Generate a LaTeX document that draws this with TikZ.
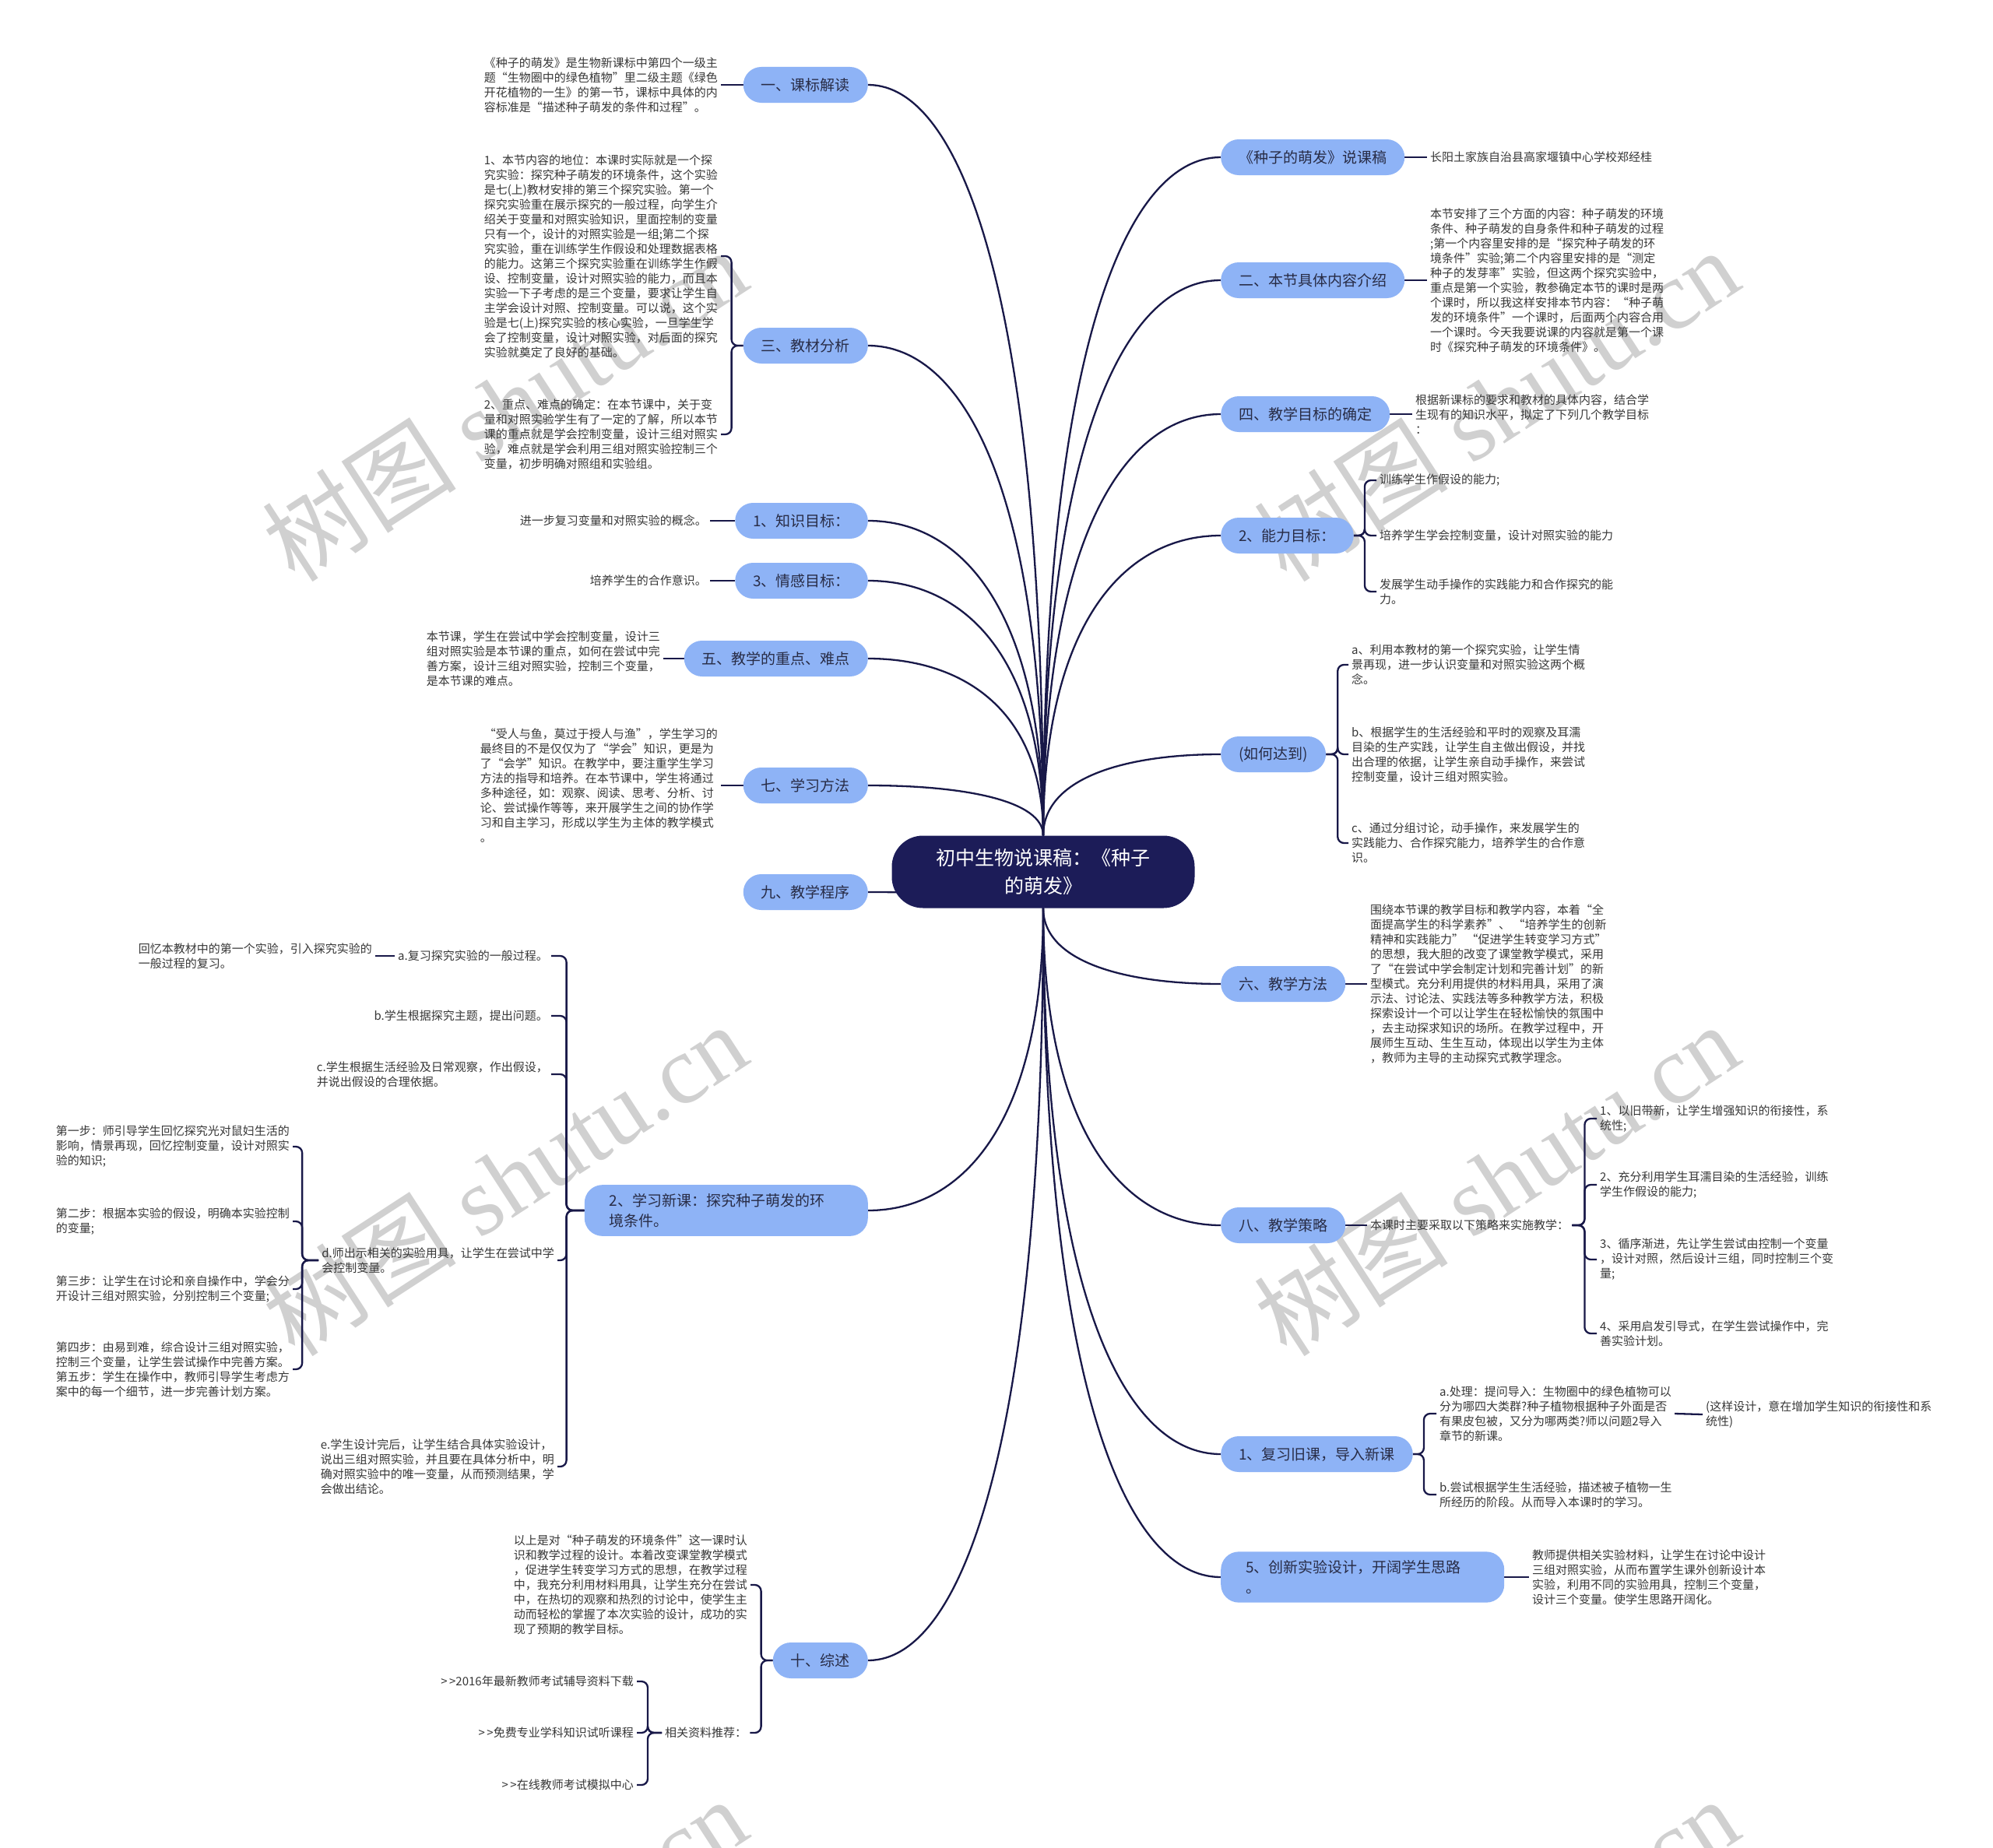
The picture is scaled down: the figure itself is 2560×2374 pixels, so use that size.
\documentclass[tikz,border=0pt]{standalone}
\usepackage{fontspec}
\setmainfont{Noto Sans CJK SC}
\newfontfamily\cjkwm{Noto Sans CJK SC}
\newfontfamily\latwm{Liberation Serif}
\usetikzlibrary{calc}
\definecolor{pillC}{RGB}{142,179,246}
\definecolor{rootC}{RGB}{28,28,88}
\definecolor{lineC}{RGB}{24,24,72}
\definecolor{nodeT}{RGB}{40,44,70}
\definecolor{leafT}{RGB}{55,55,55}
\definecolor{wmC}{RGB}{208,208,208}
\pgfdeclarelayer{wmlayer}
\pgfdeclarelayer{bglayer}
\pgfsetlayers{wmlayer,bglayer,main}
\begin{document}
\begin{tikzpicture}[x=1pt,y=-1pt,
  conn/.style={draw=lineC, line width=2.3pt},
  brk/.style={rounded corners=8pt},
  lvl/.style={fill=pillC, text=nodeT, rounded corners=23pt, font=\fontsize{19}{26}\selectfont, inner xsep=23pt, inner ysep=0pt, minimum height=46pt},
  lvltwo/.style={lvl, text width=300pt, align=left, inner xsep=32pt, inner ysep=11pt},
  leaf/.style={text=leafT, font=\fontsize{15}{19}\selectfont, align=left, inner sep=4pt},
  rootn/.style={fill=rootC, text=white, rounded corners=40pt, font=\fontsize{25}{36}\selectfont, align=center, minimum width=389pt, minimum height=93pt, inner sep=0pt},
  wm/.style={text=wmC, font=\fontsize{125}{130}\selectfont, rotate=33, inner sep=0pt},
  branch/.style={to path={.. controls ($(\tikztostart)!0.7!(\tikztostart |- \tikztotarget)$) and ($(\tikztotarget)!0.55!(\tikztotarget -| \tikztostart)$) .. (\tikztotarget)}}
]
\useasboundingbox (0,0) rectangle (2560,2374);
\begin{pgfonlayer}{wmlayer}
\fill[white] (0,0) rectangle (2560,2374);
\foreach \x/\y/\n in {648/520/a, 1922/520/b, 648/1515/c, 1922/1515/d, 648/2510/e, 1922/2510/f}
  \node[wm] (wm\n) at (\x,\y) {\cjkwm 树图\latwm{} shutu.cn};
\end{pgfonlayer}

% root
\node[rootn] (root) at (1340,1120) {初中生物说课稿：《种子\\的萌发》};

% left level-1
\node[lvl, anchor=east] (n1) at (1115,109) {一、课标解读};
\node[lvl, anchor=east] (n3) at (1115,444) {三、教材分析};
\node[lvl, anchor=east] (nK) at (1115,669) {1、知识目标：};
\node[lvl, anchor=east] (nQ) at (1115,746) {3、情感目标：};
\node[lvl, anchor=east] (n5) at (1115,846) {五、教学的重点、难点};
\node[lvl, anchor=east] (n7) at (1115,1009) {七、学习方法};
\node[lvl, anchor=east] (n9) at (1115,1146) {九、教学程序};
\node[lvltwo, anchor=east] (nL) at (1115,1555) {2、学习新课：探究种子萌发的环\\境条件。};
\node[lvl, anchor=east] (n10) at (1115,2133) {十、综述};

% right level-1
\node[lvl, anchor=west] (r1) at (1568,202) {《种子的萌发》说课稿};
\node[lvl, anchor=west] (r2) at (1568,360) {二、本节具体内容介绍};
\node[lvl, anchor=west] (r4) at (1568,532) {四、教学目标的确定};
\node[lvl, anchor=west] (rA) at (1568,688) {2、能力目标：};
\node[lvl, anchor=west] (rH) at (1568,969) {(如何达到)};
\node[lvl, anchor=west] (r6) at (1568,1264) {六、教学方法};
\node[lvl, anchor=west] (r8) at (1568,1574) {八、教学策略};
\node[lvl, anchor=west] (rF) at (1568,1868) {1、复习旧课，导入新课};
\node[lvltwo, anchor=west] (rC) at (1568,2026) {5、创新实验设计，开阔学生思路\\。};

% left leaves
\node[leaf, anchor=east] (t1) at (926,109) {《种子的萌发》是生物新课标中第四个一级主\\题“生物圈中的绿色植物”里二级主题《绿色\\开花植物的一生》的第一节，课标中具体的内\\容标准是“描述种子萌发的条件和过程”。};
\node[leaf, anchor=east] (t3a) at (926,329) {1、本节内容的地位：本课时实际就是一个探\\究实验：探究种子萌发的环境条件，这个实验\\是七(上)教材安排的第三个探究实验。第一个\\探究实验重在展示探究的一般过程，向学生介\\绍关于变量和对照实验知识，里面控制的变量\\只有一个，设计的对照实验是一组;第二个探\\究实验，重在训练学生作假设和处理数据表格\\的能力。这第三个探究实验重在训练学生作假\\设、控制变量，设计对照实验的能力，而且本\\实验一下子考虑的是三个变量，要求让学生自\\主学会设计对照、控制变量。可以说，这个实\\验是七(上)探究实验的核心实验，一旦学生学\\会了控制变量，设计对照实验，对后面的探究\\实验就奠定了良好的基础。};
\node[leaf, anchor=east] (t3b) at (926,558) {2、重点、难点的确定：在本节课中，关于变\\量和对照实验学生有了一定的了解，所以本节\\课的重点就是学会控制变量，设计三组对照实\\验，难点就是学会利用三组对照实验控制三个\\变量，初步明确对照组和实验组。};
\node[leaf, anchor=east] (tK) at (912,669) {进一步复习变量和对照实验的概念。};
\node[leaf, anchor=east] (tQ) at (912,746) {培养学生的合作意识。};
\node[leaf, anchor=east] (t5) at (852,846) {本节课，学生在尝试中学会控制变量，设计三\\组对照实验是本节课的重点，如何在尝试中完\\善方案，设计三组对照实验，控制三个变量，\\是本节课的难点。};
\node[leaf, anchor=east] (t7) at (926,1009) {\hspace*{5pt}“受人与鱼，莫过于授人与渔”，学生学习的\\最终目的不是仅仅为了“学会”知识，更是为\\了“会学”知识。在教学中，要注重学生学习\\方法的指导和培养。在本节课中，学生将通过\\多种途径，如：观察、阅读、思考、分析、讨\\论、尝试操作等等，来开展学生之间的协作学\\习和自主学习，形成以学生为主体的教学模式\\。};

\node[leaf, anchor=east] (tLa) at (708,1228) {a.复习探究实验的一般过程。};
\node[leaf, anchor=east] (tLa1) at (482,1228) {回忆本教材中的第一个实验，引入探究实验的\\一般过程的复习。};
\node[leaf, anchor=east] (tLb) at (708,1305) {b.学生根据探究主题，提出问题。};
\node[leaf, anchor=east] (tLc) at (708,1380) {c.学生根据生活经验及日常观察，作出假设，\\并说出假设的合理依据。};
\node[leaf, anchor=east] (tLd) at (716,1619) {d.师出示相关的实验用具，让学生在尝试中学\\会控制变量。};
\node[leaf, anchor=east] (tLe) at (716,1884) {e.学生设计完后，让学生结合具体实验设计，\\说出三组对照实验，并且要在具体分析中，明\\确对照实验中的唯一变量，从而预测结果，学\\会做出结论。};
\node[leaf, anchor=east] (s1) at (376,1473) {第一步：师引导学生回忆探究光对鼠妇生活的\\影响，情景再现，回忆控制变量，设计对照实\\验的知识;};
\node[leaf, anchor=east] (s2) at (376,1569) {第二步：根据本实验的假设，明确本实验控制\\的变量;};
\node[leaf, anchor=east] (s3) at (376,1656) {第三步：让学生在讨论和亲自操作中，学会分\\开设计三组对照实验，分别控制三个变量;};
\node[leaf, anchor=east] (s4) at (376,1759) {第四步：由易到难，综合设计三组对照实验，\\控制三个变量，让学生尝试操作中完善方案。\\第五步：学生在操作中，教师引导学生考虑方\\案中的每一个细节，进一步完善计划方案。};

\node[leaf, anchor=east] (tS) at (964,2036) {以上是对“种子萌发的环境条件”这一课时认\\识和教学过程的设计。本着改变课堂教学模式\\，促进学生转变学习方式的思想，在教学过程\\中，我充分利用材料用具，让学生充分在尝试\\中，在热切的观察和热烈的讨论中，使学生主\\动而轻松的掌握了本次实验的设计，成功的实\\现了预期的教学目标。};
\node[leaf, anchor=west] (tR) at (850,2226) {相关资料推荐：};
\node[leaf, anchor=east] (l1) at (818,2160) {>\,>2016年最新教师考试辅导资料下载};
\node[leaf, anchor=east] (l2) at (818,2226) {>\,>免费专业学科知识试听课程};
\node[leaf, anchor=east] (l3) at (818,2293) {>\,>在线教师考试模拟中心};

% right leaves
\node[leaf, anchor=west] (u1) at (1833,202) {长阳土家族自治县高家堰镇中心学校郑经桂};
\node[leaf, anchor=west] (u2) at (1833,360) {本节安排了三个方面的内容：种子萌发的环境\\条件、种子萌发的自身条件和种子萌发的过程\\;第一个内容里安排的是“探究种子萌发的环\\境条件”实验;第二个内容里安排的是“测定\\种子的发芽率”实验，但这两个探究实验中，\\重点是第一个实验，教参确定本节的课时是两\\个课时，所以我这样安排本节内容：“种子萌\\发的环境条件”一个课时，后面两个内容合用\\一个课时。今天我要说课的内容就是第一个课\\时《探究种子萌发的环境条件》。};
\node[leaf, anchor=west] (u4) at (1814,532) {根据新课标的要求和教材的具体内容，结合学\\生现有的知识水平，拟定了下列几个教学目标\\：};
\node[leaf, anchor=west] (uA1) at (1768,617) {训练学生作假设的能力;};
\node[leaf, anchor=west] (uA2) at (1768,688) {培养学生学会控制变量，设计对照实验的能力};
\node[leaf, anchor=west] (uA3) at (1768,760) {发展学生动手操作的实践能力和合作探究的能\\力。};
\node[leaf, anchor=west] (uH1) at (1732,854) {a、利用本教材的第一个探究实验，让学生情\\景再现，进一步认识变量和对照实验这两个概\\念。};
\node[leaf, anchor=west] (uH2) at (1732,969) {b、根据学生的生活经验和平时的观察及耳濡\\目染的生产实践，让学生自主做出假设，并找\\出合理的依据，让学生亲自动手操作，来尝试\\控制变量，设计三组对照实验。};
\node[leaf, anchor=west] (uH3) at (1732,1083) {c、通过分组讨论，动手操作，来发展学生的\\实践能力、合作探究能力，培养学生的合作意\\识。};
\node[leaf, anchor=west] (u6) at (1756,1264) {围绕本节课的教学目标和教学内容，本着“全\\面提高学生的科学素养”、\ “培养学生的创新\\精神和实践能力”\ “促进学生转变学习方式”\\的思想，我大胆的改变了课堂教学模式，采用\\了“在尝试中学会制定计划和完善计划”的新\\型模式。充分利用提供的材料用具，采用了演\\示法、讨论法、实践法等多种教学方法，积极\\探索设计一个可以让学生在轻松愉快的氛围中\\，去主动探求知识的场所。在教学过程中，开\\展师生互动、生生互动，体现出以学生为主体\\，教师为主导的主动探究式教学理念。};
\node[leaf, anchor=west] (u8) at (1756,1574) {本课时主要采取以下策略来实施教学：};
\node[leaf, anchor=west] (u81) at (2051,1437) {1、以旧带新，让学生增强知识的衔接性，系\\统性;};
\node[leaf, anchor=west] (u82) at (2051,1522) {2、充分利用学生耳濡目染的生活经验，训练\\学生作假设的能力;};
\node[leaf, anchor=west] (u83) at (2051,1618) {3、循序渐进，先让学生尝试由控制一个变量\\，设计对照，然后设计三组，同时控制三个变\\量;};
\node[leaf, anchor=west] (u84) at (2051,1713) {4、采用启发引导式，在学生尝试操作中，完\\善实验计划。};
\node[leaf, anchor=west] (uFa) at (1845,1816) {a.处理：提问导入：生物圈中的绿色植物可以\\分为哪四大类群?种子植物根据种子外面是否\\有果皮包被，又分为哪两类?师以问题2导入\\章节的新课。};
\node[leaf, anchor=west] (uFa1) at (2187,1817) {(这样设计，意在增加学生知识的衔接性和系\\统性)};
\node[leaf, anchor=west] (uFb) at (1845,1920) {b.尝试根据学生生活经验，描述被子植物一生\\所经历的阶段。从而导入本课时的学习。};
\node[leaf, anchor=west] (uC) at (1964,2026) {教师提供相关实验材料，让学生在讨论中设计\\三组对照实验，从而布置学生课外创新设计本\\实验，利用不同的实验用具，控制三个变量，\\设计三个变量。使学生思路开阔化。};

\begin{pgfonlayer}{bglayer}
% root branches
\foreach \n in {n1,n3,nK,nQ,n5,n7} \draw[conn] (root.north) to[branch] (\n.east);
\foreach \n in {r1,r2,r4,rA,rH} \draw[conn] (root.north) to[branch] (\n.west);
\foreach \n in {n9,nL,n10} \draw[conn] (root.south) to[branch] (\n.east);
\foreach \n in {r6,r8,rF,rC} \draw[conn] (root.south) to[branch] (\n.west);
% simple links
\draw[conn] (n1.west) -- (t1.east);
\draw[conn] (nK.west) -- (tK.east);
\draw[conn] (nQ.west) -- (tQ.east);
\draw[conn] (n5.west) -- (t5.east);
\draw[conn] (n7.west) -- (t7.east);
\draw[conn] (tLa.west) -- (tLa1.east);
\draw[conn] (r1.east) -- (u1.west);
\draw[conn] (r2.east) -- (u2.west);
\draw[conn] (r4.east) -- (u4.west);
\draw[conn] (r6.east) -- (u6.west);
\draw[conn] (r8.east) -- (u8.west);
\draw[conn] (uFa.east) -- (uFa1.west);
\draw[conn] (rC.east) -- (uC.west);
% brackets
\foreach \c in {t3a,t3b} \draw[conn,brk] (n3.west) -- ++(-15,0) |- (\c.east);
\foreach \c in {tLa,tLb,tLc,tLd,tLe} \draw[conn,brk] (nL.west) -- ++(-23,0) |- (\c.east);
\foreach \c in {s1,s2,s3,s4} \draw[conn,brk] (tLd.west) -- ++(-21,0) |- (\c.east);
\foreach \c in {tS,tR} \draw[conn,brk] (n10.west) -- ++(-15,0) |- (\c.east);
\foreach \c in {l1,l2,l3} \draw[conn,brk] (tR.west) -- ++(-18,0) |- (\c.east);
\foreach \c in {uA1,uA2,uA3} \draw[conn,brk] (rA.east) -- ++(14,0) |- (\c.west);
\foreach \c in {uH1,uH2,uH3} \draw[conn,brk] (rH.east) -- ++(15,0) |- (\c.west);
\foreach \c in {u81,u82,u83,u84} \draw[conn,brk] (u8.east) -- ++(16,0) |- (\c.west);
\foreach \c in {uFa,uFb} \draw[conn,brk] (rF.east) -- ++(14,0) |- (\c.west);
\end{pgfonlayer}
\end{tikzpicture}
\end{document}
